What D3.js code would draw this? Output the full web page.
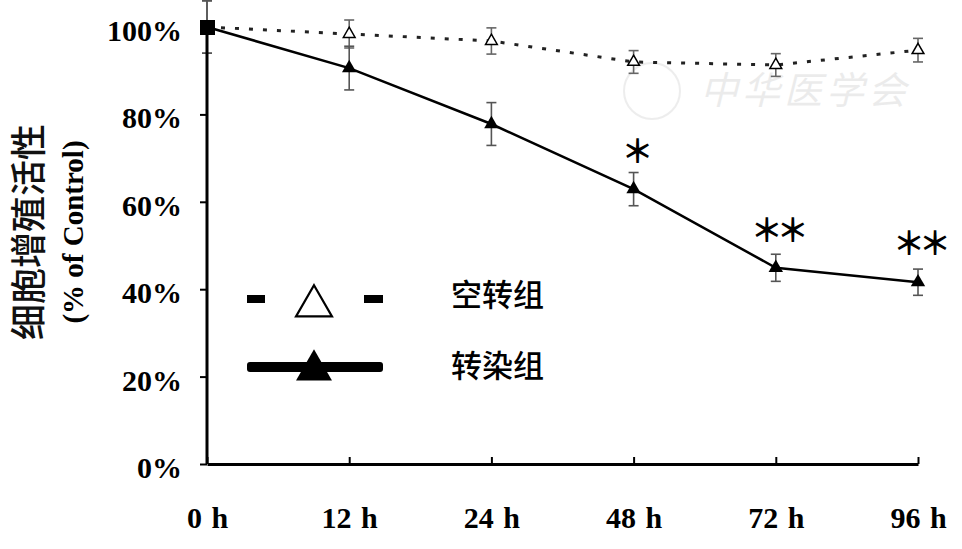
<!DOCTYPE html>
<html><head><meta charset="utf-8">
<script src="https://cdn.jsdelivr.net/npm/d3@7"></script>
<style>body{margin:0;background:#fff;} svg{display:block;}</style>
</head><body>
<svg id="c" width="962" height="549"></svg>
<script>
const categories = ["0 h","12 h","24 h","48 h","72 h","96 h"];
const emptyVector = [100, 98.4, 96.8, 92.0, 91.3, 94.7];
const emptyErr    = [6, 3.2, 3.0, 2.6, 2.6, 2.7];
const transfected = [100, 90.6, 77.8, 62.9, 44.9, 41.6];
const transErr    = [6, 5.0, 4.9, 3.8, 3.1, 3.0];
const yTicks = [0, 20, 40, 60, 80, 100];
const signif = ["", "", "", "*", "**", "**"];
const signifAt = [0, 0, 0, 72, 54, 51];
const seriesNames = ["空转组", "转染组"];

const svg = d3.select("#c");
const x = d3.scalePoint().domain(categories).range([207, 918]);
const y = d3.scaleLinear().domain([0, 100]).range([464, 27]);
const serif = "'Liberation Serif','Times New Roman',serif";
const cjk = "'Noto Sans CJK SC','Noto Sans CJK JP',sans-serif";

// watermark
const wm = svg.append("g").attr("opacity", 0.09);
wm.append("circle").attr("cx", 652).attr("cy", 91).attr("r", 28).attr("fill","none").attr("stroke","#444").attr("stroke-width",2);
wm.append("text").attr("x", 700).attr("y", 104).attr("font-family", cjk).attr("font-size", 38)
  .attr("font-style","italic").attr("fill","#333").attr("letter-spacing", 4).text("中华医学会");

// error bars
function errBars(vals, errs, color) {
  const g = svg.append("g").attr("stroke", color).attr("stroke-width", 1.6);
  vals.forEach((v, i) => {
    const cx = x(categories[i]);
    g.append("line").attr("x1", cx).attr("x2", cx).attr("y1", y(v + errs[i])).attr("y2", y(v - errs[i]));
    [v + errs[i], v - errs[i]].forEach(e => g.append("line").attr("x1", cx - 5).attr("x2", cx + 5).attr("y1", y(e)).attr("y2", y(e)));
  });
}
errBars(emptyVector, emptyErr, "#666");
errBars(transfected, transErr, "#555");

// axes
const yAxis = d3.axisLeft(y).tickValues(yTicks).tickSize(7).tickFormat(d => d + "%");
const yg = svg.append("g").attr("transform", "translate(207,0)").call(yAxis);
yg.select(".domain").attr("stroke", "#000").attr("stroke-width", 3).attr("d", "M0,464V27");
yg.selectAll(".tick line").attr("stroke", "#000").attr("stroke-width", 2);
yg.selectAll(".tick text").attr("x", -25).attr("dy", "0.45em")
  .attr("font-family", serif).attr("font-weight", "bold").attr("font-size", 30).attr("fill", "#000");

const xAxis = d3.axisBottom(x).tickSize(-7).tickSizeOuter(0);
const xg = svg.append("g").attr("transform", "translate(0,464)").call(xAxis);
xg.select(".domain").attr("stroke", "#000").attr("stroke-width", 3);
xg.selectAll(".tick line").attr("stroke", "#000").attr("stroke-width", 2);
xg.selectAll(".tick text").attr("y", 64).attr("dy", 0).attr("word-spacing", 2)
  .attr("font-family", serif).attr("font-weight", "bold").attr("font-size", 30).attr("fill", "#000");

// lines
const line = d3.line().x((d, i) => x(categories[i])).y(d => y(d));
svg.append("path").datum(emptyVector).attr("d", line).attr("fill", "none")
  .attr("stroke", "#222").attr("stroke-width", 3).attr("stroke-dasharray", "4,10");
svg.append("path").datum(transfected).attr("d", line).attr("fill", "none")
  .attr("stroke", "#000").attr("stroke-width", 2.5);

// markers
const tri = d3.symbol().type(d3.symbolTriangle);
svg.append("g").selectAll("path").data(emptyVector.slice(1)).join("path")
  .attr("transform", (d, i) => `translate(${x(categories[i + 1])},${y(d)})`)
  .attr("d", tri.size(60)).attr("fill", "#fff").attr("stroke", "#000").attr("stroke-width", 1.5);
svg.append("g").selectAll("path").data(transfected.slice(1)).join("path")
  .attr("transform", (d, i) => `translate(${x(categories[i + 1])},${y(d)})`)
  .attr("d", tri.size(90)).attr("fill", "#000");
svg.append("rect").attr("x", x(categories[0]) - 7).attr("y", y(transfected[0]) - 7)
  .attr("width", 15).attr("height", 15).attr("fill", "#000");

// significance marks
svg.append("g").selectAll("text").data(signif).join("text")
  .attr("x", (d, i) => x(categories[i]) + 1).attr("y", (d, i) => y(signifAt[i]))
  .attr("text-anchor", "middle").attr("dominant-baseline", "central")
  .attr("font-family", cjk).attr("font-weight", "bold").attr("font-size", 32).attr("fill", "#000")
  .attr("letter-spacing", -6)
  .text(d => d.replace(/\*/g, "＊"));

// legend
const lg = svg.append("g");
lg.append("rect").attr("x", 247).attr("y", 295).attr("width", 18).attr("height", 8).attr("fill", "#000");
lg.append("rect").attr("x", 364).attr("y", 295).attr("width", 19).attr("height", 8).attr("fill", "#000");
lg.append("path").attr("transform", "translate(314,306)").attr("d", d3.symbol().type(d3.symbolTriangle).size(560)())
  .attr("fill", "#fff").attr("stroke", "#000").attr("stroke-width", 2.2);
lg.append("rect").attr("x", 247).attr("y", 362).attr("width", 136).attr("height", 10).attr("rx", 3).attr("fill", "#000");
lg.append("path").attr("transform", "translate(314,370)").attr("d", d3.symbol().type(d3.symbolTriangle).size(560)())
  .attr("fill", "#000");
lg.selectAll("text.lbl").data(seriesNames).join("text").attr("class", "lbl")
  .attr("x", 451).attr("y", (d, i) => i === 0 ? 292 : 363).attr("dominant-baseline", "central")
  .attr("font-family", cjk).attr("font-weight", 500).attr("font-size", 31).attr("fill", "#000").text(d => d);

// y labels
svg.append("text").attr("transform", "translate(26,232) rotate(-90)").attr("text-anchor", "middle")
  .attr("dominant-baseline", "central").attr("font-family", cjk).attr("font-weight", 500)
  .attr("font-size", 36).attr("fill", "#111").text("细胞增殖活性");
svg.append("text").attr("transform", "translate(73,232) rotate(-90)").attr("text-anchor", "middle")
  .attr("dominant-baseline", "central").attr("font-family", serif).attr("font-weight", "bold")
  .attr("font-size", 29).attr("fill", "#000").text("(% of Control)");
</script>
</body></html>
